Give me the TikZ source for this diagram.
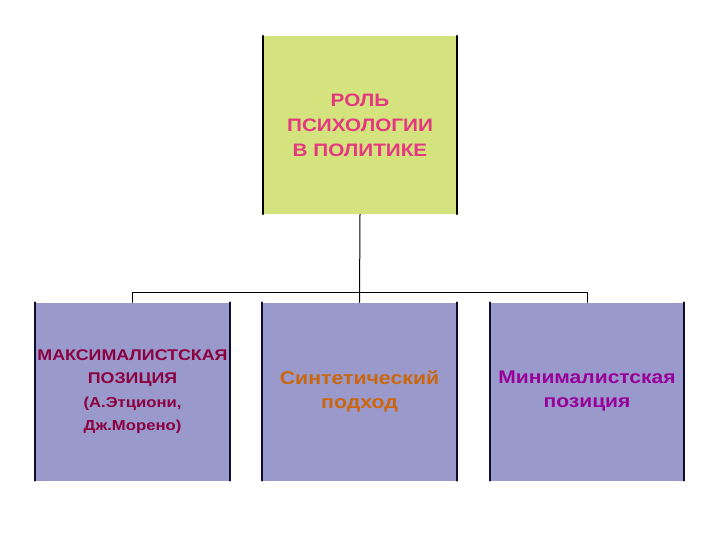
\documentclass[tikz,border=0pt]{standalone}
\usepackage{fontspec}
\setmainfont{Liberation Sans}
\newfontfamily\shir[FakeStretch=1.15]{Liberation Sans}
\usetikzlibrary{calc}

\begin{document}
\begin{tikzpicture}[line cap=round,line join=round,x=1pt,y=-1pt,
  blok/.style={minimum width=194pt,minimum height=178pt,inner sep=0pt,align=center},
  krai/.style={line width=2pt},
  svyaz/.style={line width=1pt,color=black}]
\definecolor{zzzelen}{rgb}{0.83,0.89,0.49}
\definecolor{lllila}{rgb}{0.6,0.6,0.8}
\definecolor{rrroza}{rgb}{0.9,0.22,0.5}
\definecolor{bbbord}{rgb}{0.55,0.0,0.25}
\definecolor{ooorang}{rgb}{0.8,0.4,0.05}
\definecolor{fffiol}{rgb}{0.6,0.0,0.6}
\definecolor{nnnavy}{rgb}{0.05,0.05,0.2}
\useasboundingbox (0,0) rectangle (720,540);
\node[blok,fill=zzzelen,text=rrroza,font=\shir\bfseries\fontsize{18}{25}\selectfont] (rol) at (360,125) {РОЛЬ\\ПСИХОЛОГИИ\\В ПОЛИТИКЕ};
\node[blok,fill=lllila,text=bbbord,font=\shir\bfseries\fontsize{15.5}{23.5}\selectfont] (maks) at (132.5,391.5) {МАКСИМАЛИСТСКАЯ\\ПОЗИЦИЯ\\{\fontsize{14.5}{22}\selectfont (А.Этциони,}\\{\fontsize{14.5}{22}\selectfont Дж.Морено)}};
\node[blok,fill=lllila,text=ooorang,font=\shir\bfseries\fontsize{18.5}{24}\selectfont] (sint) at (359.5,391.5) {Синтетический\\подход};
\node[blok,fill=lllila,text=fffiol,font=\shir\bfseries\fontsize{18.3}{24}\selectfont] (mini) at (587,391.5) {Минималистская\\позиция};
\draw [krai] (rol.north west) -- (rol.south west);
\draw [krai] (rol.north east) -- (rol.south east);
\draw [krai,color=nnnavy] (maks.north west) -- (maks.south west);
\draw [krai,color=nnnavy] (maks.north east) -- (maks.south east);
\draw [krai,color=nnnavy] (sint.north west) -- (sint.south west);
\draw [krai,color=nnnavy] (sint.north east) -- (sint.south east);
\draw [krai,color=nnnavy] (mini.north west) -- (mini.south west);
\draw [krai,color=nnnavy] (mini.north east) -- (mini.south east);
\draw [svyaz] (rol.south) -- (sint.north);
\draw [svyaz] (maks.north) -- ++(0,-9.5) -| (mini.north);
\end{tikzpicture}
\end{document}
